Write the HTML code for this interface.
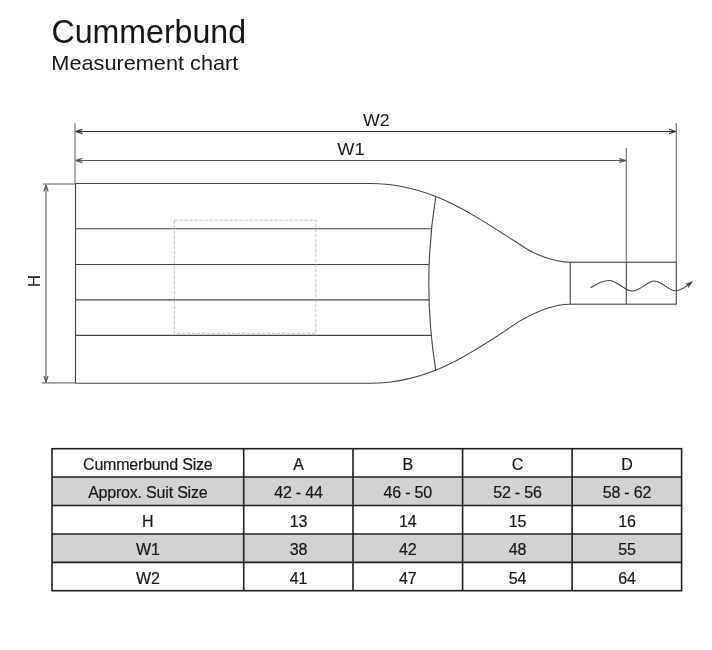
<!DOCTYPE html>
<html><head><meta charset="utf-8">
<style>
html,body{margin:0;padding:0;background:#fff;}
body{width:712px;height:650px;overflow:hidden;position:relative;}
#wrap{position:absolute;left:0;top:0;width:712px;height:650px;filter:grayscale(1);}
svg{position:absolute;left:0;top:0;}
text{font-family:"Liberation Sans",sans-serif;fill:#161616;}
</style></head><body>
<div id="wrap"><svg width="712" height="650" viewBox="0 0 712 650">
<defs>
<marker id="ah" viewBox="0 0 10 10" refX="10" refY="5" markerWidth="7" markerHeight="7" orient="auto-start-reverse" markerUnits="userSpaceOnUse">
<path d="M0,2 L10,5 L0,8" fill="none" stroke="#333" stroke-width="1.6"/><path d="M4,3.6 L10,5 L4,6.4 Z" fill="#333"/>
</marker>
<marker id="ahg" viewBox="0 0 10 10" refX="10" refY="5" markerWidth="7" markerHeight="7" orient="auto-start-reverse" markerUnits="userSpaceOnUse">
<path d="M0,2 L10,5 L0,8" fill="none" stroke="#555" stroke-width="1.6"/><path d="M4,3.6 L10,5 L4,6.4 Z" fill="#555"/>
</marker>
<marker id="ahw" viewBox="0 0 10 10" refX="10" refY="5" markerWidth="7" markerHeight="7" orient="auto" markerUnits="userSpaceOnUse">
<path d="M0,1.8 L10,5 L0,8.2 L3,5 Z" fill="#444" stroke="#444" stroke-width="0.8"/>
</marker>
</defs>
<!-- titles -->
<text x="51.5" y="43" font-size="32.5" textLength="194.5" lengthAdjust="spacingAndGlyphs">Cummerbund</text>
<text x="51.3" y="70.2" font-size="20.3" textLength="187" lengthAdjust="spacingAndGlyphs">Measurement chart</text>

<!-- dimension extension lines -->
<g stroke="#777" stroke-width="1.2" fill="none">
<line x1="75" y1="123" x2="75" y2="184"/>
<line x1="676.3" y1="123" x2="676.3" y2="262"/>
<line x1="626.3" y1="148" x2="626.3" y2="262"/>
<line x1="43" y1="184" x2="75" y2="184"/>
<line x1="42" y1="382.8" x2="75" y2="382.8"/>
</g>
<g fill="none" stroke-width="1.1">
<line x1="75.5" y1="131.5" x2="676" y2="131.5" stroke="#333" marker-start="url(#ah)" marker-end="url(#ah)"/>
<line x1="75.5" y1="160.5" x2="625.5" y2="160.5" stroke="#555" marker-start="url(#ahg)" marker-end="url(#ahg)"/>
<line x1="46" y1="184.5" x2="46" y2="382.5" stroke="#555" marker-start="url(#ahg)" marker-end="url(#ahg)"/>
</g>
<text x="363" y="126" font-size="17" textLength="26.5" lengthAdjust="spacingAndGlyphs">W2</text>
<text x="337.3" y="155" font-size="17" textLength="27.3" lengthAdjust="spacingAndGlyphs">W1</text>
<text transform="translate(40,287.3) rotate(-90)" x="0" y="0" font-size="17">H</text>

<!-- bottle -->
<g stroke="#444" stroke-width="1.1" fill="none">
<path d="M75.5,183.5 H370 C428.2,183.5 467.3,210.6 523.7,247.0 C534.9,254.8 555.3,262.2 570,262.2"/>
<path d="M75.5,183.5 V383.2 H370 C425.4,383.2 466.1,357.7 519.1,321.4 C528.5,315.9 551.1,304.2 570,304.2"/>
<rect x="570.2" y="262.2" width="106.1" height="42"/>
<line x1="626.3" y1="262" x2="626.3" y2="304.2"/>
<path d="M435.8,196.1 Q421.8,283.3 435.8,370.5"/>
<line x1="75.5" y1="228.7" x2="431.5" y2="228.7"/>
<line x1="75.5" y1="264.5" x2="429" y2="264.5"/>
<line x1="75.5" y1="299.9" x2="429" y2="299.9"/>
<line x1="75.5" y1="335.4" x2="431.2" y2="335.4"/>
</g>
<rect x="174.3" y="220.3" width="141.5" height="113" fill="none" stroke="#b4b4b4" stroke-width="0.8" stroke-dasharray="3.5,1.5"/>
<path d="M590.7,287.8 C598,283 603,280.5 609.2,280.5 C617,280.5 624,290.5 631.8,291 C640,291.5 647,281 654.5,281 C662,281 668,290.7 675.5,290.7 C682,290.7 688,285 692.4,281.6" fill="none" stroke="#444" stroke-width="1.1" marker-end="url(#ahw)"/>

<!-- table -->
<rect x="52" y="477" width="629.6" height="28.5" fill="#d2d2d2"/>
<rect x="52" y="534" width="629.6" height="28.4" fill="#d2d2d2"/>
<g stroke="#1e1e1e" stroke-width="1.6" fill="none">
<rect x="52" y="448.7" width="629.6" height="142"/>
<line x1="52" y1="477" x2="681.6" y2="477"/>
<line x1="52" y1="505.5" x2="681.6" y2="505.5"/>
<line x1="52" y1="534" x2="681.6" y2="534"/>
<line x1="52" y1="562.4" x2="681.6" y2="562.4"/>
<line x1="243.7" y1="448.7" x2="243.7" y2="590.7"/>
<line x1="353" y1="448.7" x2="353" y2="590.7"/>
<line x1="462.6" y1="448.7" x2="462.6" y2="590.7"/>
<line x1="572.1" y1="448.7" x2="572.1" y2="590.7"/>
</g>
<g font-size="16" text-anchor="middle" letter-spacing="-0.2" stroke="#161616" stroke-width="0.2">
<text x="147.8" y="469.8">Cummerbund Size</text>
<text x="298.4" y="469.8">A</text>
<text x="407.8" y="469.8">B</text>
<text x="517.4" y="469.8">C</text>
<text x="626.9" y="469.8">D</text>
<text x="147.8" y="498.3">Approx. Suit Size</text>
<text x="298.4" y="498.3">42 - 44</text>
<text x="407.8" y="498.3">46 - 50</text>
<text x="517.4" y="498.3">52 - 56</text>
<text x="626.9" y="498.3">58 - 62</text>
<text x="147.8" y="526.8">H</text>
<text x="298.4" y="526.8">13</text>
<text x="407.8" y="526.8">14</text>
<text x="517.4" y="526.8">15</text>
<text x="626.9" y="526.8">16</text>
<text x="147.8" y="555.3">W1</text>
<text x="298.4" y="555.3">38</text>
<text x="407.8" y="555.3">42</text>
<text x="517.4" y="555.3">48</text>
<text x="626.9" y="555.3">55</text>
<text x="147.8" y="583.8">W2</text>
<text x="298.4" y="583.8">41</text>
<text x="407.8" y="583.8">47</text>
<text x="517.4" y="583.8">54</text>
<text x="626.9" y="583.8">64</text>
</g>
</svg></div>
</body></html>
